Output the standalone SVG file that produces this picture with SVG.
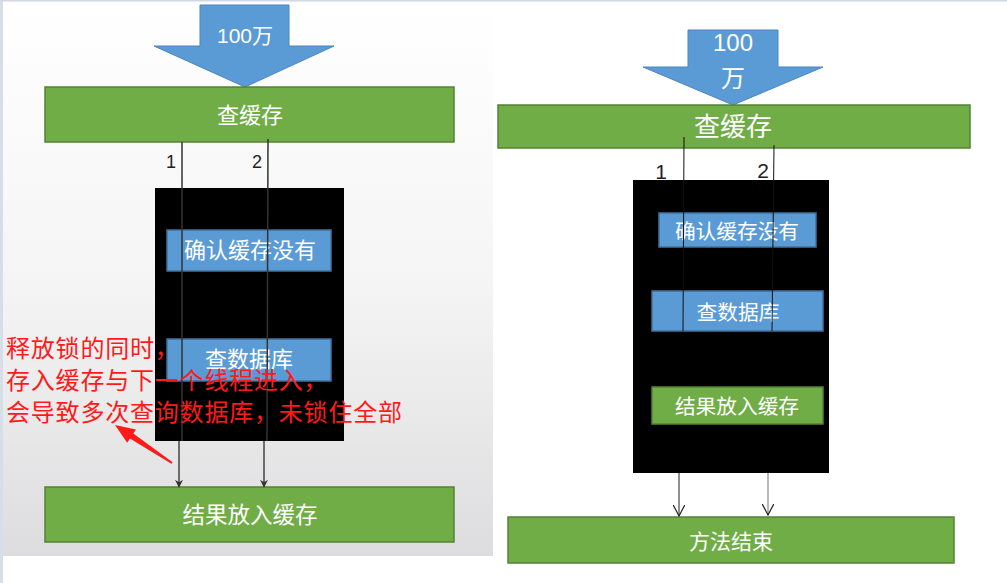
<svg xmlns="http://www.w3.org/2000/svg" width="1007" height="583" viewBox="0 0 1007 583">
<defs>
<linearGradient id="bgL" x1="0" y1="0" x2="0" y2="1">
<stop offset="0" stop-color="#ffffff"/>
<stop offset="0.5" stop-color="#f5f5f5"/>
<stop offset="1" stop-color="#dddddf"/>
</linearGradient>
<marker id="ahFill" viewBox="0 0 10 10" refX="9" refY="5" markerWidth="8" markerHeight="8" markerUnits="userSpaceOnUse" orient="auto">
<path d="M0,0 L10,5 L0,10 L3,5 Z" fill="#333"/>
</marker>
<marker id="ahOpen" viewBox="0 0 10 10" refX="9.5" refY="5" markerWidth="12" markerHeight="12" markerUnits="userSpaceOnUse" orient="auto">
<path d="M0,0 L9.5,5 L0,10" fill="none" stroke="#222" stroke-width="1"/>
</marker>
</defs>
<style>
.t{font-family:"Liberation Sans","Noto Sans CJK SC",sans-serif;fill:#ffffff;text-anchor:middle;dominant-baseline:central}
.green{fill:#70ad47;stroke:#548235;stroke-width:1.5}
.blue{fill:#5b9bd5;stroke:#41719c;stroke-width:1.5}
.bigArrow{fill:#5b9bd5;stroke:#4a86c0;stroke-width:1}
.lock{fill:#000000}
.num{font-family:"Liberation Sans",sans-serif;fill:#222;text-anchor:middle}
.red{font-family:"Noto Sans CJK SC",sans-serif;fill:#ff1a1a;font-size:24px;letter-spacing:0.8px}
.thru{stroke:#333;stroke-width:1.5;fill:none}
.thruR{stroke:#111;stroke-width:1;fill:none}
</style>
<rect x="0" y="0" width="1007" height="583" fill="#ffffff"/>
<!-- left panel background -->
<rect x="3" y="1" width="490" height="555" fill="url(#bgL)"/>
<rect x="0" y="0" width="3" height="583" fill="#d6deea"/>
<rect x="0" y="0" width="1007" height="1.5" fill="#d0d8e4"/>

<!-- LEFT DIAGRAM -->
<g id="left-input">
<polygon class="bigArrow" points="200,5 289,5 289,46 334,46 245,87 154,46 200,46"/>
<text class="t" x="245" y="35" font-size="21">100万</text>
</g>
<g id="left-check-cache">
<rect class="green" x="45" y="87" width="409" height="55"/>
<text class="t" x="250" y="115" font-size="22">查缓存</text>
</g>
<g id="left-lock">
<rect class="lock" x="155" y="188" width="189" height="253"/>
</g>
<g id="left-confirm">
<rect class="blue" x="167" y="230" width="164" height="41"/>
<text class="t" x="250" y="250" font-size="22">确认缓存没有</text>
</g>
<g id="left-query-db">
<rect class="blue" x="167" y="339" width="164" height="42"/>
<text class="t" x="249" y="359" font-size="22">查数据库</text>
</g>
<g id="left-result">
<rect class="green" x="45" y="487" width="409" height="55"/>
<text class="t" x="250" y="515" font-size="22.5">结果放入缓存</text>
</g>

<!-- RIGHT DIAGRAM -->
<g id="right-input">
<polygon class="bigArrow" points="688,30 778,30 778,67 823,67 733,105 643,67 688,67"/>
<text class="t" x="733" y="42" font-size="24">100</text>
<text class="t" x="733" y="78" font-size="24">万</text>
</g>
<g id="right-check-cache">
<rect class="green" x="498" y="105" width="472" height="43"/>
<text class="t" x="733" y="127" font-size="26">查缓存</text>
</g>
<g id="right-lock">
<rect class="lock" x="633" y="180" width="196" height="293"/>
</g>
<g id="right-confirm">
<rect class="blue" x="659" y="213" width="157" height="34"/>
<text class="t" x="737" y="231" font-size="20.7">确认缓存没有</text>
</g>
<g id="right-query-db">
<rect class="blue" x="652" y="291" width="171" height="40"/>
<text class="t" x="738" y="312" font-size="20.7">查数据库</text>
</g>
<g id="right-result">
<rect class="green" x="652" y="387" width="171" height="37"/>
<text class="t" x="737" y="406" font-size="20.7">结果放入缓存</text>
</g>
<g id="right-end">
<rect class="green" x="508" y="517" width="446" height="46"/>
<text class="t" x="731" y="541" font-size="21">方法结束</text>
</g>

<!-- CONNECTORS -->
<g id="connectors">
<line class="thru" x1="182" y1="142" x2="182" y2="441"/>
<line class="thru" x1="268" y1="139" x2="267" y2="441"/>
<line x1="179" y1="441" x2="179" y2="487" stroke="#444" stroke-width="1.5" marker-end="url(#ahFill)"/>
<line x1="264" y1="441" x2="264" y2="487" stroke="#444" stroke-width="1.5" marker-end="url(#ahFill)"/>
<text class="num" x="171" y="168" font-size="18">1</text>
<text class="num" x="257" y="168" font-size="18">2</text>

<line class="thruR" x1="684" y1="137" x2="683" y2="331"/>
<line class="thruR" x1="774" y1="145" x2="772" y2="331"/>
<line x1="679" y1="473" x2="679" y2="516" stroke="#222" stroke-width="1" marker-end="url(#ahOpen)"/>
<line x1="768" y1="473" x2="768" y2="515" stroke="#777" stroke-width="1" marker-end="url(#ahOpen)"/>
<text class="num" x="661" y="179" font-size="21" fill="#000">1</text>
<text class="num" x="763" y="178" font-size="21" fill="#000">2</text>
</g>

<!-- annotation -->
<g id="annotation">
<text class="red" x="6" y="357">释放锁的同时，</text>
<text class="red" x="6" y="389">存入缓存与下一个线程进入，</text>
<text class="red" x="6" y="421">会导致多次查询数据库，未锁住全部</text>
<polygon fill="#ff1a1a" points="115,425 136,429.4 133.3,433.6 172.6,462.2 171.4,463.8 129.9,438.6 127.2,442.8"/>
</g>
</svg>
